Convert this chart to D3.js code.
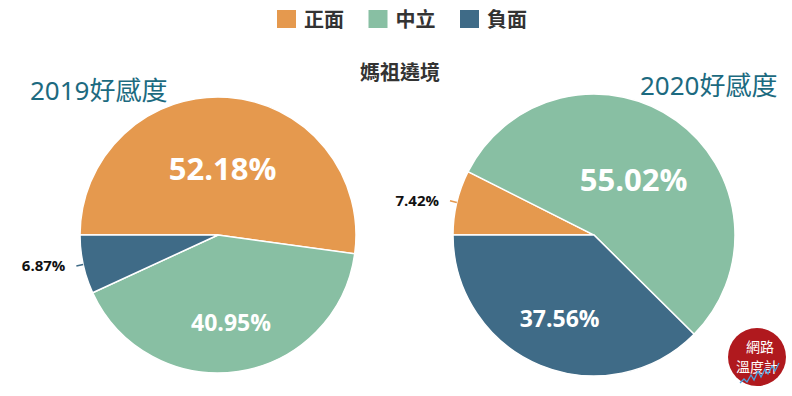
<!DOCTYPE html>
<meta charset="utf-8">
<style>
  body { margin: 0; background: #fff; }
  text { font-family: "Noto Sans", "Noto Sans CJK TC", sans-serif; }
  .pct { font-family: "Open Sans", "Noto Sans", sans-serif; font-weight: 700; }
</style>
<svg id="chart" width="792" height="396"></svg>
<script src="https://cdn.jsdelivr.net/npm/d3@7"></script>
<script>
// categories + colours
var categories = ["正面", "中立", "負面"];
var colors = ["#E5994E", "#88BFA3", "#3F6B87"];

// share per year (%)
var values2019 = [52.18, 40.95, 6.87];
var values2020 = [7.42, 55.02, 37.56];

var chartTitle = "媽祖遶境";
var pieTitles = ["2019好感度", "2020好感度"];

var svg = d3.select("#chart");

// legend
var legendX = d3.scalePoint().domain(categories).range([277, 460]);
var legend = svg.selectAll("g.legend")
    .data(categories)
    .enter().append("g")
    .attr("class", "legend")
    .attr("transform", d => "translate(" + legendX(d) + ",10)");
legend.append("rect")
    .attr("width", 19).attr("height", 18)
    .style("fill", (d, i) => colors[i]);
legend.append("text")
    .attr("x", 27).attr("y", 17)
    .style("font-size", "20px").style("font-weight", 700).style("fill", "#333")
    .text(d => d);

svg.append("text")
    .attr("x", 400).attr("y", 80)
    .attr("text-anchor", "middle")
    .style("font-size", "20px").style("font-weight", 700).style("fill", "#333")
    .text(chartTitle);

// pies
var pie = d3.pie().sort(null)
    .startAngle(-Math.PI / 2).endAngle(Math.PI * 1.5);

function drawPie(values, cx, cy, r, title, tx, ty) {
    svg.append("text")
        .attr("x", tx).attr("y", ty)
        .style("font-size", "26px").style("fill", "#1C6A80")
        .text(title);

    var g = svg.append("g").attr("transform", "translate(" + cx + "," + cy + ")");
    var arcs = pie(values);
    var arc = d3.arc().innerRadius(0).outerRadius(r);
    var maxV = d3.max(values);

    g.selectAll("path")
        .data(arcs)
        .enter().append("path")
        .attr("d", arc)
        .style("fill", (d, i) => colors[i])
        .style("stroke", "#fff")
        .style("stroke-width", 1.5);

    arcs.forEach(function(d) {
        var mid = (d.startAngle + d.endAngle) / 2;
        var sx = Math.sin(mid), sy = -Math.cos(mid);
        var label = d.value.toFixed(2) + "%";
        if (d.value < 10) {
            // outside label with leader line
            g.append("line")
                .attr("x1", sx * r).attr("y1", sy * r)
                .attr("x2", sx * (r + 7)).attr("y2", sy * (r + 7))
                .style("stroke", colors[d.index]).style("stroke-width", 1.5);
            g.append("text").attr("class", "pct")
                .attr("x", sx * (r + 7) - 11).attr("y", sy * (r + 7) + 5)
                .attr("text-anchor", "end")
                .style("font-size", "15px").style("fill", "#111")
                .text(label);
        } else {
            var big = d.value === maxV;
            var lr = big ? r * 0.48 : r * 0.64;
            g.append("text").attr("class", "pct")
                .attr("x", sx * lr).attr("y", sy * lr)
                .attr("dy", "0.36em")
                .attr("text-anchor", "middle")
                .style("font-size", big ? "31px" : "23px").style("fill", "#fff")
                .text(label);
        }
    });
}

drawPie(values2019, 218, 235, 138, pieTitles[0], 30, 100);
drawPie(values2020, 594, 235, 141, pieTitles[1], 640, 95);

// logo badge
var logo = svg.append("g").attr("transform", "translate(757,357)");
logo.append("circle").attr("r", 29).style("fill", "#B0191E");
logo.append("text").attr("x", 3).attr("y", -5).attr("text-anchor", "middle")
    .style("font-size", "14px").style("fill", "#fff").text("網路");
logo.append("text").attr("x", 0).attr("y", 15).attr("text-anchor", "middle")
    .style("font-size", "14px").style("fill", "#fff").text("溫度計");
logo.append("path")
    .attr("d", "M-17,26 L-13,22 L-10,25 L-6,18 L-3,23 L1,14 L4,20 L8,12 L11,17 L15,9 L18,14 L22,6")
    .style("fill", "none").style("stroke", "#4EA3E0").style("stroke-width", 1.3);
</script>
